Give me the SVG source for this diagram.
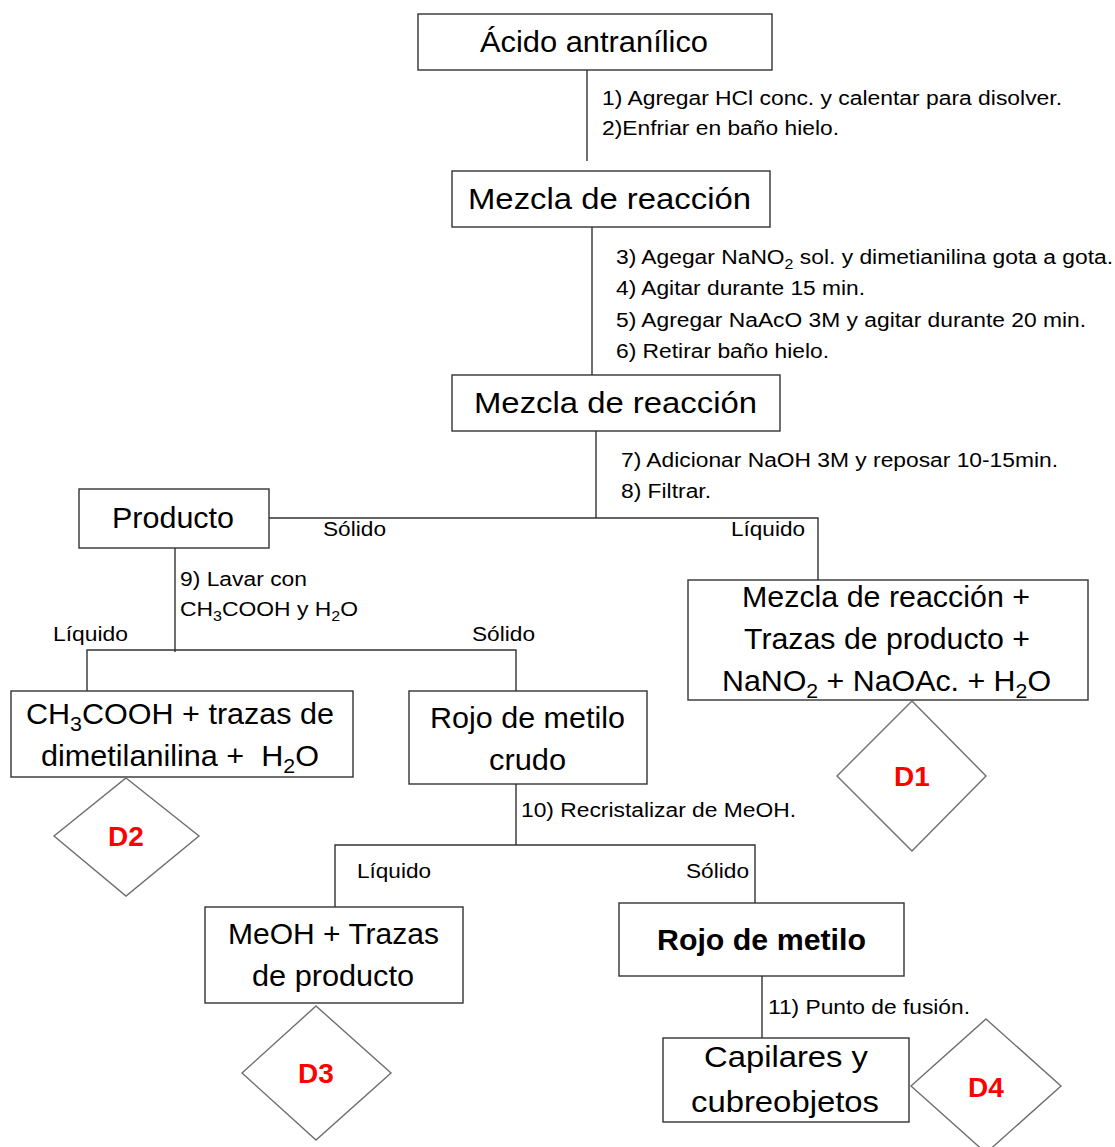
<svg xmlns="http://www.w3.org/2000/svg" width="1115" height="1147" viewBox="0 0 1115 1147">
<style>
.box{fill:#fff;stroke:#333;stroke-width:1.4}
.dia{fill:#fff;stroke:#6e6e6e;stroke-width:1.4}
.ln{fill:none;stroke:#333;stroke-width:1.4}
text{font-family:"Liberation Sans",Arial,sans-serif;fill:#000}
.big{font-size:30px}
.step{font-size:20px}
.lbl{font-size:19.5px}
.d{font-size:28px;font-weight:bold;fill:#f00;text-anchor:middle}
.sub{font-size:70%}
</style>
<rect width="1115" height="1147" fill="#fff"/>
<g id="connectors">
<path class="ln" d="M587,70V161"/>
<path class="ln" d="M592,227V375"/>
<path class="ln" d="M596,431V518"/>
<path class="ln" d="M269,518H818V580"/>
<path class="ln" d="M175,548V652"/>
<path class="ln" d="M87,691V650H516V691"/>
<path class="ln" d="M516,784V845"/>
<path class="ln" d="M335,907V845H755V903"/>
<path class="ln" d="M762,976V1038"/>
</g>
<g id="labels">
<text class="step" x="602" y="105" textLength="460" lengthAdjust="spacingAndGlyphs">1) Agregar HCl conc. y calentar para disolver.</text>
<text class="step" x="602" y="135" textLength="237" lengthAdjust="spacingAndGlyphs">2)Enfriar en baño hielo.</text>
<text class="step" x="616" y="264" textLength="497" lengthAdjust="spacingAndGlyphs">3) Agegar NaNO<tspan class="sub" dy="5">2</tspan><tspan dy="-5"> sol. y dimetianilina gota a gota.</tspan></text>
<text class="step" x="616" y="295" textLength="249" lengthAdjust="spacingAndGlyphs">4) Agitar durante 15 min.</text>
<text class="step" x="616" y="327" textLength="470" lengthAdjust="spacingAndGlyphs">5) Agregar NaAcO 3M y agitar durante 20 min.</text>
<text class="step" x="616" y="358" textLength="213" lengthAdjust="spacingAndGlyphs">6) Retirar baño hielo.</text>
<text class="step" x="621" y="467" textLength="437" lengthAdjust="spacingAndGlyphs">7) Adicionar NaOH 3M y reposar 10-15min.</text>
<text class="step" x="621" y="498" textLength="90" lengthAdjust="spacingAndGlyphs">8) Filtrar.</text>
<text class="lbl" x="323" y="536" textLength="63" lengthAdjust="spacingAndGlyphs">Sólido</text>
<text class="lbl" x="731" y="536" textLength="74" lengthAdjust="spacingAndGlyphs">Líquido</text>
<text class="step" x="180" y="586" textLength="127" lengthAdjust="spacingAndGlyphs">9) Lavar con</text>
<text class="step" x="180" y="616" textLength="178" lengthAdjust="spacingAndGlyphs">CH<tspan class="sub" dy="5">3</tspan><tspan dy="-5">COOH y H</tspan><tspan class="sub" dy="5">2</tspan><tspan dy="-5">O</tspan></text>
<text class="lbl" x="53" y="641" textLength="75" lengthAdjust="spacingAndGlyphs">Líquido</text>
<text class="lbl" x="472" y="641" textLength="63" lengthAdjust="spacingAndGlyphs">Sólido</text>
<text class="step" x="521" y="817" textLength="275" lengthAdjust="spacingAndGlyphs">10) Recristalizar de MeOH.</text>
<text class="lbl" x="357" y="878" textLength="74" lengthAdjust="spacingAndGlyphs">Líquido</text>
<text class="lbl" x="686" y="878" textLength="63" lengthAdjust="spacingAndGlyphs">Sólido</text>
<text class="step" x="768" y="1014" textLength="202" lengthAdjust="spacingAndGlyphs">11) Punto de fusión.</text>
</g>
<g id="n-acido">
<rect class="box" x="418" y="14" width="354" height="56"/>
<text class="big" x="480" y="52" textLength="228" lengthAdjust="spacingAndGlyphs">Ácido antranílico</text>
</g>
<g id="n-mezcla1">
<rect class="box" x="452" y="171" width="318" height="56"/>
<text class="big" x="468" y="209" textLength="283" lengthAdjust="spacingAndGlyphs">Mezcla de reacción</text>
</g>
<g id="n-mezcla2">
<rect class="box" x="452" y="375" width="328" height="56"/>
<text class="big" x="474" y="413" textLength="283" lengthAdjust="spacingAndGlyphs">Mezcla de reacción</text>
</g>
<g id="n-producto">
<rect class="box" x="79" y="489" width="190" height="59"/>
<text class="big" x="112" y="528" textLength="122" lengthAdjust="spacingAndGlyphs">Producto</text>
</g>
<g id="n-mezcla-trazas">
<rect class="box" x="688" y="580" width="400" height="120"/>
<text class="big" x="742" y="607" textLength="288" lengthAdjust="spacingAndGlyphs">Mezcla de reacción +</text>
<text class="big" x="744" y="649" textLength="286" lengthAdjust="spacingAndGlyphs">Trazas de producto +</text>
<text class="big" x="722" y="691" textLength="329" lengthAdjust="spacingAndGlyphs">NaNO<tspan class="sub" dy="7">2</tspan><tspan dy="-7"> + NaOAc. + H</tspan><tspan class="sub" dy="7">2</tspan><tspan dy="-7">O</tspan></text>
</g>
<g id="n-d1">
<polygon class="dia" points="912,701 986,776 912,851 837,776"/>
<text class="d" x="912" y="786">D1</text>
</g>
<g id="n-ch3cooh">
<rect class="box" x="11" y="691" width="342" height="86"/>
<text class="big" x="26" y="724" textLength="308" lengthAdjust="spacingAndGlyphs">CH<tspan class="sub" dy="7">3</tspan><tspan dy="-7">COOH + trazas de</tspan></text>
<text class="big" x="41" y="766" textLength="278" lengthAdjust="spacingAndGlyphs">dimetilanilina +&#160; H<tspan class="sub" dy="7">2</tspan><tspan dy="-7">O</tspan></text>
</g>
<g id="n-d2">
<polygon class="dia" points="126,778 199,836 126,896 54,836"/>
<text class="d" x="126" y="846">D2</text>
</g>
<g id="n-rojo-crudo">
<rect class="box" x="409" y="691" width="238" height="93"/>
<text class="big" x="430" y="728" textLength="195" lengthAdjust="spacingAndGlyphs">Rojo de metilo</text>
<text class="big" x="489" y="770" textLength="77" lengthAdjust="spacingAndGlyphs">crudo</text>
</g>
<g id="n-meoh">
<rect class="box" x="205" y="907" width="258" height="96"/>
<text class="big" x="228" y="944" textLength="211" lengthAdjust="spacingAndGlyphs">MeOH + Trazas</text>
<text class="big" x="252" y="986" textLength="162" lengthAdjust="spacingAndGlyphs">de producto</text>
</g>
<g id="n-d3">
<polygon class="dia" points="316,1006 391,1073 316,1140 242,1073"/>
<text class="d" x="316" y="1083">D3</text>
</g>
<g id="n-rojo">
<rect class="box" x="619" y="903" width="285" height="73"/>
<text class="big" x="657" y="950" style="font-weight:bold" textLength="209" lengthAdjust="spacingAndGlyphs">Rojo de metilo</text>
</g>
<g id="n-capilares">
<rect class="box" x="663" y="1038" width="246" height="84"/>
<text class="big" x="704" y="1067" textLength="164" lengthAdjust="spacingAndGlyphs">Capilares y</text>
<text class="big" x="691" y="1112" textLength="188" lengthAdjust="spacingAndGlyphs">cubreobjetos</text>
</g>
<g id="n-d4">
<polygon class="dia" points="986,1019 1061,1086 986,1153 911,1086"/>
<text class="d" x="986" y="1097">D4</text>
</g>
</svg>
